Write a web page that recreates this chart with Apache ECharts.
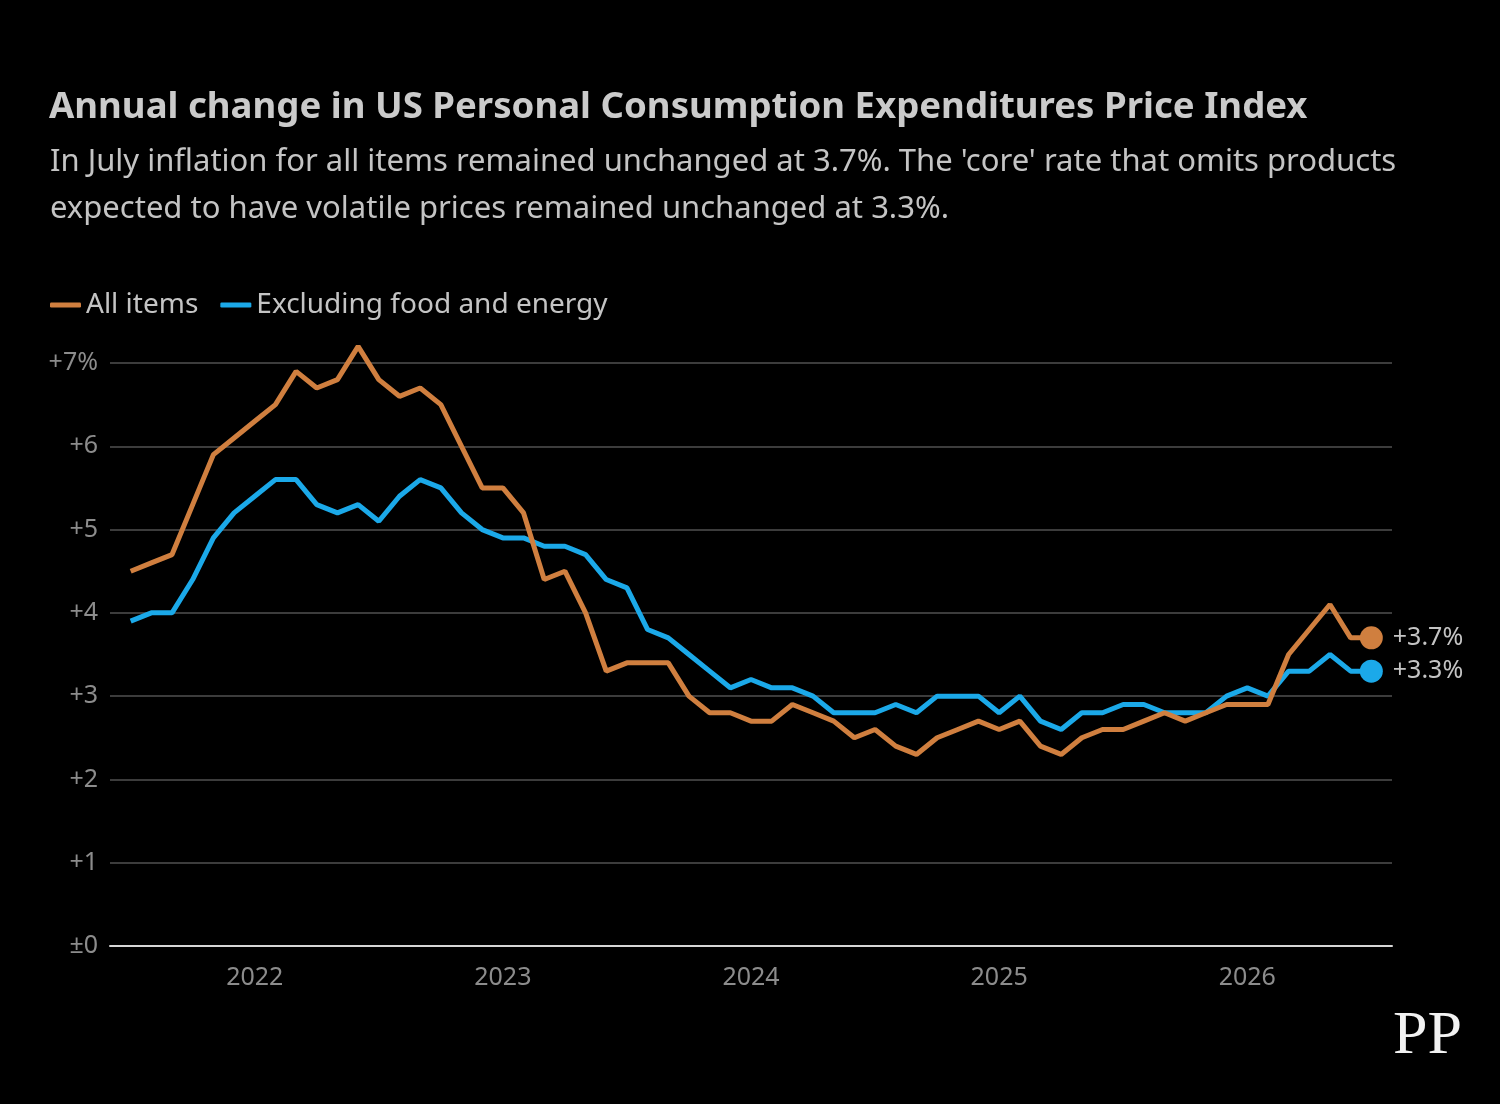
<!DOCTYPE html>
<html>
<head>
<meta charset="utf-8">
<script src="https://cdn.jsdelivr.net/npm/echarts@6/dist/echarts.min.js"></script>
<style>
  html, body { margin: 0; padding: 0; background: #000; }
  #chart { width: 1500px; height: 1104px; }
</style>
</head>
<body>
<div id="chart"></div>
<script>
// monthly, Jul 2021 .. Jul 2026
var allItems = [4.5, 4.6, 4.7, 5.3, 5.9, 6.1, 6.3, 6.5, 6.9, 6.7,
  6.8, 7.2, 6.8, 6.6, 6.7, 6.5, 6.0, 5.5, 5.5, 5.2,
  4.4, 4.5, 4.0, 3.3, 3.4, 3.4, 3.4, 3.0, 2.8, 2.8,
  2.7, 2.7, 2.9, 2.8, 2.7, 2.5, 2.6, 2.4, 2.3, 2.5,
  2.6, 2.7, 2.6, 2.7, 2.4, 2.3, 2.5, 2.6, 2.6, 2.7,
  2.8, 2.7, 2.8, 2.9, 2.9, 2.9, 3.5, 3.8, 4.1, 3.7,
  3.7]
var coreItems = [3.9, 4.0, 4.0, 4.4, 4.9, 5.2, 5.4, 5.6, 5.6, 5.3,
  5.2, 5.3, 5.1, 5.4, 5.6, 5.5, 5.2, 5.0, 4.9, 4.9,
  4.8, 4.8, 4.7, 4.4, 4.3, 3.8, 3.7, 3.5, 3.3, 3.1,
  3.2, 3.1, 3.1, 3.0, 2.8, 2.8, 2.8, 2.9, 2.8, 3.0,
  3.0, 3.0, 2.8, 3.0, 2.7, 2.6, 2.8, 2.8, 2.9, 2.9,
  2.8, 2.8, 2.8, 3.0, 3.1, 3.0, 3.3, 3.3, 3.5, 3.3,
  3.3]
var yTicks = [0, 1, 2, 3, 4, 5, 6, 7]
var seriesNames = ["All items", "Excluding food and energy"]
var colors = ["#d07f3f", "#1ba9e9"]

function pad(n) { return n < 10 ? "0" + n : "" + n }

// axis runs one month either side of the data
var axisMonths = []
for (var y = 2021, m = 6; y < 2026 || m <= 8; ) {
  axisMonths.push(y + "-" + pad(m))
  m++
  if (m > 12) { m = 1; y++ }
}
var dataMonths = axisMonths.slice(1, axisMonths.length - 1)

function pairs(vals) {
  return vals.map(function (v, i) { return [dataMonths[i], v] })
}

function lastPoint(vals) {
  var i = vals.length - 1
  return [[dataMonths[i], vals[i]]]
}

var chart = echarts.init(document.getElementById("chart"))

var font = "Noto Sans"
var labelGrey = "#8c8c8c"
var textGrey = "#c4c4c4"

var endLabel = {
  show: true, position: "right", distance: 10, color: textGrey, fontFamily: font, fontSize: 25,
  formatter: function (p) { return "+" + p.value[1].toFixed(1) + "%" }
}

var option = {
  backgroundColor: "#000",
  animation: false,
  title: [
    {
      text: "Annual change in US Personal Consumption Expenditures Price Index",
      left: 44, top: 84,
      textStyle: { color: "#cbcbcb", fontFamily: font, fontWeight: "bold", fontSize: 36.6 }
    },
    {
      text: "In July inflation for all items remained unchanged at 3.7%. The 'core' rate that omits products\nexpected to have volatile prices remained unchanged at 3.3%.",
      left: 45, top: 134,
      textStyle: { color: textGrey, fontFamily: font, fontWeight: "normal", fontSize: 31, lineHeight: 47 }
    }
  ],
  legend: {
    left: 45, top: 286,
    icon: "roundRect",
    itemWidth: 31, itemHeight: 5,
    itemGap: 22,
    data: seriesNames,
    textStyle: { color: textGrey, fontFamily: font, fontSize: 28 }
  },
  grid: { left: 110, right: 108, top: 363, bottom: 158 },
  xAxis: {
    type: "category",
    data: axisMonths,
    boundaryGap: false,
    axisLine: { show: true, lineStyle: { color: "#d6d6d6", width: 2 } },
    axisTick: { show: false },
    splitLine: { show: false },
    axisLabel: {
      color: labelGrey, fontFamily: font, fontSize: 25, margin: 19,
      interval: function (idx, val) { return val.slice(5) === "01" },
      formatter: function (val) { return val.slice(0, 4) }
    }
  },
  yAxis: {
    type: "value",
    min: yTicks[0], max: yTicks[yTicks.length - 1], interval: 1,
    axisLine: { show: false },
    axisTick: { show: false },
    splitLine: { lineStyle: { color: "#3c3c3c", width: 2 } },
    axisLabel: {
      color: labelGrey, fontFamily: font, fontSize: 25, margin: 12,
      formatter: function (v) {
        if (v === 0) return "±0"
        if (v === 7) return "+7%"
        return "+" + v
      }
    }
  },
  series: [
    {
      name: seriesNames[0], type: "line", data: pairs(allItems),
      symbol: "none", color: colors[0], clip: false,
      lineStyle: { width: 5, color: colors[0] }, z: 3
    },
    {
      name: seriesNames[1], type: "line", data: pairs(coreItems),
      symbol: "none", color: colors[1], clip: false,
      lineStyle: { width: 5, color: colors[1] }, z: 2
    },
    {
      type: "scatter", data: lastPoint(allItems), symbolSize: 23,
      itemStyle: { color: colors[0], opacity: 1 }, z: 4, label: endLabel
    },
    {
      type: "scatter", data: lastPoint(coreItems), symbolSize: 23,
      itemStyle: { color: colors[1], opacity: 1 }, z: 4, label: endLabel
    }
  ],
  graphic: [
    {
      type: "text", right: 38, top: 1006,
      style: { text: "PP", fill: "#f2f2f2", font: "62px 'Liberation Serif'" }
    }
  ]
}

chart.setOption(option)
</script>
</body>
</html>
